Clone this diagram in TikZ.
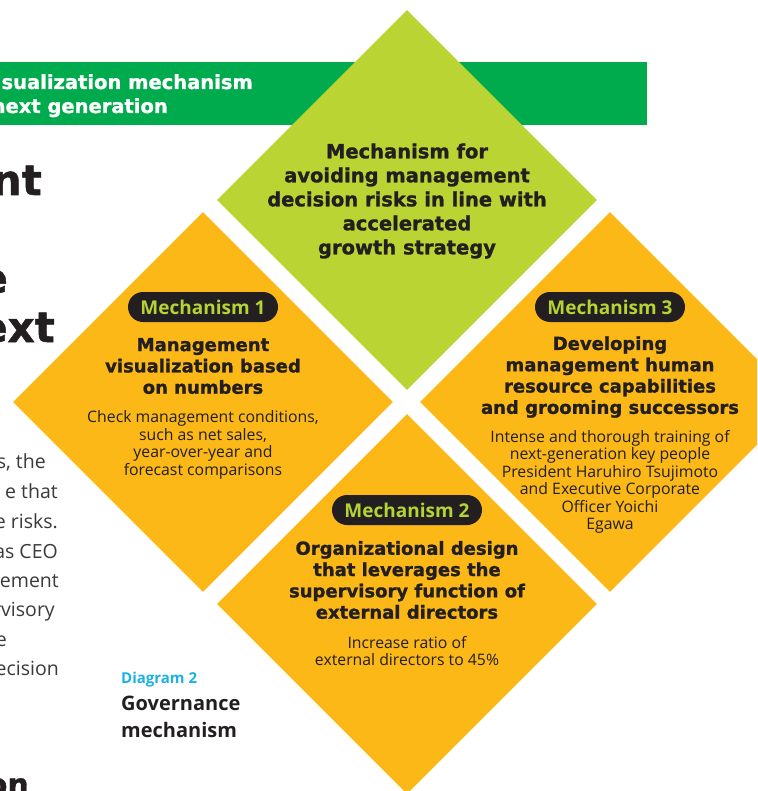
\documentclass[tikz,border=0pt]{standalone}
\usepackage{fontspec}
\setmainfont{Open Sans}
\newfontfamily\headfont{DejaVu Sans}[BoldFeatures={FakeBold=1.2}]
\usetikzlibrary{shapes.geometric}
\definecolor{band}{HTML}{00AB4E}
\definecolor{lime}{HTML}{B9D433}
\definecolor{amber}{HTML}{FBB817}
\definecolor{ink}{HTML}{231F20}
\definecolor{tagtext}{HTML}{B5D334}
\definecolor{sky}{HTML}{1CB1E5}
\definecolor{body}{HTML}{3A3A3A}

\begin{document}
\begin{tikzpicture}[x=1pt,y=-1pt,
  tile/.style={diamond,aspect=1,minimum width=380pt,minimum height=380pt,inner sep=0pt},
  tag/.style={rounded corners=15pt,fill=ink,text=tagtext,minimum width=150pt,minimum height=30pt,inner sep=0pt,font=\bfseries\fontsize{19}{20}\selectfont},
  head/.style={align=center,text=ink,inner sep=0pt,font=\headfont\bfseries\fontsize{18}{21.3}\selectfont},
  note/.style={align=center,text=ink,inner sep=0pt,font=\fontsize{15.8}{17.5}\selectfont},
  line/.style={anchor=base east,inner sep=0pt,text=body,font=\fontsize{19.5}{29}\selectfont},
  big/.style={anchor=base east,inner sep=0pt,text=ink,font=\headfont\bfseries\fontsize{42}{49}\selectfont}]
\useasboundingbox (0,0) rectangle (757,791);
\clip (0,0) rectangle (757,791);
\fill[band] (0,62) rectangle (647,125);
\node[anchor=base east,inner sep=0pt,text=white,font=\headfont\bfseries\fontsize{19.5}{25}\selectfont] (band1) at (253,89) {sualization mechanism};
\node[anchor=base east,inner sep=0pt,text=white,font=\headfont\bfseries\fontsize{19.5}{25}\selectfont] (band2) at (168,113) {next generation};
\node[big] (big1) at (42,195) {nt};\node[big] (big2) at (8,293) {e};\node[big] (big3) at (55,342) {ext};
\node[line] (txt1) at (46,468) {s, the};\node[line] (txt2) at (58,498) {e that};
\node[line] (txt3) at (58,528) {e risks.};\node[line] (txt4) at (58,558) {as CEO};
\node[line] (txt5) at (59,587) {ement};\node[line] (txt6) at (55,616) {rvisory};
\node[line] (txt7) at (7,646) {e};\node[line] (txt8) at (59,675) {ecision};
\node[big,font=\headfont\bfseries\fontsize{30}{34}\selectfont] (big4) at (29,795) {on};
\node[anchor=base west,inner sep=0pt,text=sky,font=\bfseries\fontsize{15}{16}\selectfont] (diag) at (121,683) {Diagram 2};
\node[anchor=base west,inner sep=0pt,text=ink,font=\bfseries\fontsize{20}{26}\selectfont] (cap1) at (121,710) {Governance};
\node[anchor=base west,inner sep=0pt,text=ink,font=\bfseries\fontsize{20}{26}\selectfont] (cap2) at (121,737) {mechanism};
\node[tile,fill=lime] (goal) at (407,200) {};
\node[tile,fill=amber] (mech1) at (203,402) {};
\node[tile,fill=amber] (mech3) at (610,402) {};
\node[tile,fill=amber] (mech2) at (407,604) {};
\node[head,font=\headfont\bfseries\fontsize{19.5}{24}\selectfont] (goaltxt) at (407,201) {Mechanism for\\avoiding management\\decision risks in line with\\accelerated\\growth strategy};
\node[tag] (tag1) at (203,307) {Mechanism 1};
\node[head] (head1) at (203,366) {Management\\visualization based\\on numbers};
\node[note] (note1) at (203,445) {Check management conditions,\\such as net sales,\\year-over-year and\\forecast comparisons};
\node[tag] (tag3) at (610,307) {Mechanism 3};
\node[head] (head3) at (610,377) {Developing\\management human\\resource capabilities\\and grooming successors};
\node[note] (note3) at (610,482) {Intense and thorough training of\\next-generation key people\\President Haruhiro Tsujimoto\\and Executive Corporate\\Officer Yoichi\\Egawa};
\node[tag] (tag2) at (407,510) {Mechanism 2};
\node[head] (head2) at (407,580) {Organizational design\\that leverages the\\supervisory function of\\external directors};
\node[note] (note2) at (407,651) {Increase ratio of\\external directors to 45\%};
\end{tikzpicture}
\end{document}
